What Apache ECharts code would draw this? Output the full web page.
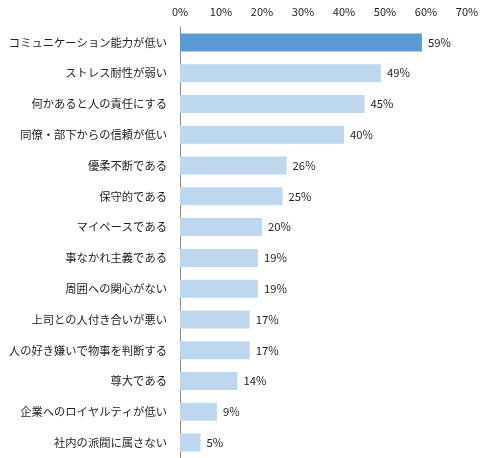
<!DOCTYPE html>
<html><head><meta charset="utf-8">
<script src="https://cdn.jsdelivr.net/npm/echarts@6/dist/echarts.min.js"></script>
<style>html,body{margin:0;padding:0;background:#fff}#c{width:490px;height:458px}</style>
</head><body><div id="c"></div>
<script>
const categories = ["コミュニケーション能力が低い","ストレス耐性が弱い","何かあると人の責任にする","同僚・部下からの信頼が低い","優柔不断である","保守的である","マイペースである","事なかれ主義である","周囲への関心がない","上司との人付き合いが悪い","人の好き嫌いで物事を判断する","尊大である","企業へのロイヤルティが低い","社内の派閥に属さない"];
const values = [59,49,45,40,26,25,20,19,19,17,17,14,9,5];
const chart = echarts.init(document.getElementById('c'));
const font = "'Noto Sans CJK JP', sans-serif";
chart.setOption({
  animation:false,
  grid:{left:180,right:23,top:27,bottom:0},
  xAxis:{type:'value',position:'top',min:0,max:70,interval:10,
    axisLabel:{formatter:'{value}%',color:'#222',fontSize:11,fontFamily:font,margin:10},
    splitLine:{show:false},axisLine:{show:false},axisTick:{show:false}},
  yAxis:{type:'category',inverse:true,data:categories,
    axisLabel:{color:'#222',fontSize:11.3,fontFamily:font,margin:13},
    axisTick:{show:false},axisLine:{show:true,lineStyle:{color:'#888'}}},
  series:[{type:'bar',barWidth:18,
    data:values.map((v,i)=>({value:v,itemStyle:{color:i===0?'#5b9bd5':'#bdd7ee'}})),
    label:{show:true,position:'right',formatter:'{c}%',color:'#222',fontSize:11.3,fontFamily:font,distance:6}}]
});
</script></body></html>
